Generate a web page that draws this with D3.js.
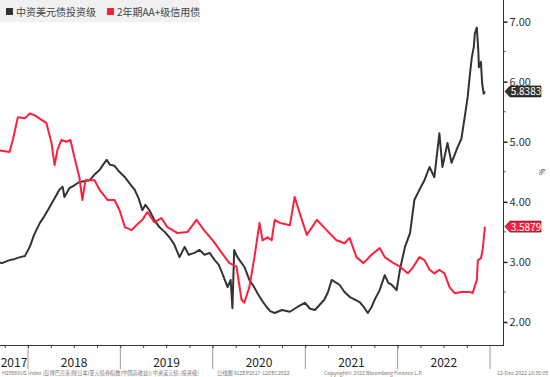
<!DOCTYPE html>
<html>
<head>
<meta charset="utf-8">
<script src="https://cdn.jsdelivr.net/npm/d3@7"></script>
<style>
  html, body { margin: 0; padding: 0; background: #fff; }
  #chart { width: 550px; height: 377px; }
  text { font-family: "Noto Sans CJK SC", "DejaVu Sans", sans-serif; }
</style>
</head>
<body>
<div id="chart"></div>
<script>
// series: 中资美元债投资级 (black) and 2年期AA+级信用债 (red), yields in %
const blackDates = [
  '2017-09-01','2017-09-20','2017-10-20','2017-11-10','2017-12-01','2017-12-20',
  '2018-01-08','2018-01-25','2018-02-17','2018-03-05','2018-03-26','2018-04-15',
  '2018-05-05','2018-05-18','2018-05-25','2018-06-14','2018-07-05','2018-07-23',
  '2018-09-02','2018-09-20','2018-10-11','2018-10-25','2018-11-08','2018-11-20',
  '2018-12-09','2018-12-28','2019-01-19','2019-02-08','2019-02-27','2019-03-15',
  '2019-03-29','2019-04-10','2019-04-26','2019-05-15','2019-06-04','2019-06-25',
  '2019-07-14','2019-08-01','2019-08-23','2019-09-12','2019-09-28','2019-10-21',
  '2019-11-10','2019-11-30','2019-12-20','2020-01-09','2020-01-25','2020-02-06',
  '2020-02-29','2020-03-12','2020-03-19','2020-03-26','2020-04-05','2020-04-16',
  '2020-05-05','2020-05-25','2020-06-10','2020-06-26','2020-07-15','2020-08-01',
  '2020-08-15','2020-09-02','2020-10-01','2020-11-01','2020-12-01','2020-12-30',
  '2021-01-20','2021-02-08','2021-03-17','2021-04-01','2021-04-15','2021-05-01',
  '2021-05-16','2021-06-05','2021-06-25','2021-08-04','2021-08-20','2021-09-05',
  '2021-09-20','2021-10-02','2021-10-22','2021-11-11','2021-11-25','2021-12-08',
  '2021-12-28','2022-01-10','2022-01-30','2022-02-19','2022-03-08','2022-03-28',
  '2022-04-17','2022-05-07','2022-05-26','2022-06-15','2022-06-27','2022-07-17',
  '2022-08-02','2022-08-26','2022-09-10','2022-09-23','2022-10-01','2022-10-05',
  '2022-10-13','2022-10-21','2022-10-29','2022-11-02','2022-11-10','2022-11-16',
  '2022-11-18','2022-11-26','2022-12-01','2022-12-07','2022-12-12'
];
const blackValues = [
  3.00, 2.98, 3.03, 3.05, 3.08, 3.10,
  3.25, 3.45, 3.65, 3.75, 3.90, 4.05,
  4.20, 4.25, 4.08, 4.23, 4.28, 4.33,
  4.36, 4.45, 4.53, 4.62, 4.70, 4.62,
  4.60, 4.50, 4.41, 4.30, 4.20, 4.05,
  3.86, 3.95, 3.86, 3.70, 3.58, 3.50,
  3.41, 3.30, 3.08, 3.25, 3.12, 3.15,
  3.20, 3.12, 3.15, 3.03, 2.95, 2.83,
  2.58, 2.70, 2.23, 3.20, 3.10, 3.03,
  2.92, 2.70, 2.60, 2.48, 2.35, 2.25,
  2.18, 2.15, 2.20, 2.17, 2.25, 2.32,
  2.22, 2.20, 2.37, 2.50, 2.70, 2.66,
  2.62, 2.50, 2.42, 2.33, 2.25, 2.15,
  2.25, 2.37, 2.53, 2.78, 2.65, 2.62,
  2.53, 2.87, 3.25, 3.48, 4.03, 4.20,
  4.36, 4.58, 4.41, 5.14, 4.58, 4.98,
  4.65, 4.91, 5.05, 5.41, 5.64, 5.75,
  6.10, 6.40, 6.58, 6.80, 6.90, 6.50,
  6.24, 6.33, 5.97, 5.80, 5.8383
];

const redDates = [
  '2017-09-01','2017-10-20','2017-11-02','2017-11-22','2017-12-20','2018-01-08',
  '2018-01-28','2018-02-25','2018-03-15','2018-04-04','2018-04-16','2018-04-27',
  '2018-05-13','2018-06-02','2018-06-18','2018-07-03','2018-07-23','2018-08-04',
  '2018-08-16','2018-09-21','2018-10-11','2018-11-12','2018-12-09','2018-12-29',
  '2019-01-19','2019-02-15','2019-03-05','2019-03-29','2019-04-18','2019-05-15',
  '2019-06-12','2019-07-06','2019-08-15','2019-09-24','2019-10-29','2019-11-22',
  '2020-01-01','2020-02-06','2020-03-07','2020-04-04','2020-04-24','2020-05-05',
  '2020-05-25','2020-06-14','2020-07-04','2020-07-16','2020-08-05','2020-08-21',
  '2020-09-02','2020-09-22','2020-11-01','2020-11-20','2020-12-10','2021-01-07',
  '2021-02-16','2021-03-26','2021-05-04','2021-06-05','2021-06-25','2021-07-22',
  '2021-08-19','2021-09-20','2021-10-22','2021-11-11','2021-12-08','2022-01-10',
  '2022-02-10','2022-03-01','2022-03-28','2022-04-17','2022-05-07','2022-05-26',
  '2022-06-15','2022-07-05','2022-07-25','2022-08-14','2022-09-11','2022-10-13',
  '2022-10-24','2022-11-10','2022-11-14','2022-11-26','2022-12-03','2022-12-12'
];
const redValues = [
  4.86, 4.83, 5.03, 5.41, 5.39, 5.47,
  5.44, 5.36, 5.31, 4.98, 4.61, 4.86,
  5.03, 5.00, 5.03, 4.75, 4.41, 4.03,
  4.36, 4.36, 4.20, 4.03, 4.03, 3.86,
  3.58, 3.53, 3.61, 3.70, 3.83, 3.66,
  3.73, 3.58, 3.48, 3.50, 3.70, 3.56,
  3.36, 3.15, 2.98, 2.92, 2.37, 2.32,
  2.58, 3.08, 3.65, 3.36, 3.41, 3.36,
  3.70, 3.65, 3.61, 4.08, 3.81, 3.45,
  3.70, 3.53, 3.36, 3.31, 3.40, 3.08,
  2.98, 3.12, 3.23, 3.08, 3.00, 2.92,
  2.81, 2.90, 3.08, 3.03, 2.87, 2.81,
  2.87, 2.81, 2.58, 2.48, 2.50, 2.50,
  2.48, 2.70, 3.03, 3.06, 3.20, 3.5879
];

const yTicks = [2, 3, 4, 5, 6, 7];
const yMinorTicks = [2.5, 3.5, 4.5, 5.5, 6.5];
const yearLabels = ['2017', '2018', '2019', '2020', '2021', '2022'];
const legendNames = ['中资美元债投资级', '2年期AA+级信用债'];

const W = 550, H = 377;
const plotRight = 503, plotBottom = 345;
const colBlack = '#333333', colRed = '#ff1f3d';

const parse = d3.timeParse('%Y-%m-%d');
const black = blackDates.map((d, i) => ({ date: parse(d), value: blackValues[i] }));
const red = redDates.map((d, i) => ({ date: parse(d), value: redValues[i] }));

const svg = d3.select('#chart').append('svg')
  .attr('width', W).attr('height', H);

// scales: year boundaries fall at fixed pixel positions in the reference
const x = d3.scaleTime()
  .domain([new Date(2018, 0, 1), new Date(2023, 0, 1)])
  .range([28, 490]);
const y = d3.scaleLinear()
  .domain([1.617, 7.36])
  .range([plotBottom, 0]);

svg.append('clipPath').attr('id', 'clip')
  .append('rect').attr('x', 0).attr('y', 0)
  .attr('width', plotRight).attr('height', plotBottom);

// year separators
const yearStarts = d3.timeYear.range(new Date(2018, 0, 1), new Date(2023, 0, 2));
svg.append('g').selectAll('line')
  .data(yearStarts)
  .join('line')
  .attr('x1', d => x(d)).attr('x2', d => x(d))
  .attr('y1', plotBottom).attr('y2', 369)
  .attr('stroke', '#999').attr('stroke-width', 1);

// quarter ticks on the bottom axis
const xAxis = svg.append('g')
  .attr('transform', `translate(0,${plotBottom})`)
  .call(d3.axisBottom(x)
    .tickValues(d3.timeMonth.every(3).range(new Date(2017, 9, 1), new Date(2023, 0, 1)))
    .tickSize(3).tickSizeOuter(0).tickFormat(''));
xAxis.select('.domain').remove();
xAxis.selectAll('line').attr('stroke', '#444');

// year labels centred in each year span
svg.append('g').selectAll('text')
  .data(yearLabels)
  .join('text')
  .attr('x', d => {
    const a = Math.max(0, x(new Date(+d, 0, 1)));
    const b = x(new Date(+d + 1, 0, 1));
    return (a + b) / 2;
  })
  .attr('y', 367)
  .attr('text-anchor', 'middle')
  .attr('font-size', 12)
  .attr('font-family', '"Liberation Sans", Arial, sans-serif')
  .attr('fill', '#222')
  .text(d => d);

// frame: bottom + right
svg.append('line')
  .attr('x1', 0).attr('x2', plotRight)
  .attr('y1', plotBottom + 0.5).attr('y2', plotBottom + 0.5)
  .attr('stroke', '#333');

// right axis
const yAxis = svg.append('g')
  .attr('transform', `translate(${plotRight + 0.5},0)`)
  .call(d3.axisRight(y).tickValues(yTicks).tickFormat(d3.format('.2f')).tickSize(4).tickPadding(2).tickSizeOuter(0));
yAxis.select('.domain').attr('d', `M0,0V${plotBottom + 1}`).attr('stroke', '#333');
yAxis.selectAll('line').attr('stroke', '#222').attr('stroke-width', 1.5);
yAxis.selectAll('text')
  .attr('font-size', 11)
  .attr('font-family', '"Liberation Sans", Arial, sans-serif')
  .attr('fill', '#333');

svg.append('g')
  .attr('transform', `translate(${plotRight + 0.5},0)`)
  .selectAll('line')
  .data(yMinorTicks)
  .join('line')
  .attr('x1', 0).attr('x2', 2)
  .attr('y1', d => y(d)).attr('y2', d => y(d))
  .attr('stroke', '#444');

// unit
svg.append('text')
  .attr('transform', `translate(539,172) rotate(90)`)
  .attr('text-anchor', 'middle')
  .attr('font-size', 7)
  .attr('fill', '#333')
  .text('%');

// lines
const line = d3.line().x(d => x(d.date)).y(d => y(d.value));
const lines = svg.append('g').attr('clip-path', 'url(#clip)');
lines.append('path').datum(black)
  .attr('fill', 'none').attr('stroke', colBlack).attr('stroke-width', 2)
  .attr('stroke-linejoin', 'round').attr('d', line);
lines.append('path').datum(red)
  .attr('fill', 'none').attr('stroke', colRed).attr('stroke-width', 2)
  .attr('stroke-linejoin', 'round').attr('d', line);

// last-value tags
[[black, colBlack], [red, colRed]].forEach(([s, c]) => {
  const last = s[s.length - 1];
  const cy = y(last.value);
  const g = svg.append('g').attr('transform', `translate(${plotRight + 2},${cy})`);
  g.append('path')
    .attr('d', 'M0,0 L5,-5.5 L36,-5.5 L36,5.5 L5,5.5 Z')
    .attr('fill', c).attr('stroke', '#111').attr('stroke-width', 0.6);
  g.append('text')
    .attr('x', 21).attr('y', 4)
    .attr('text-anchor', 'middle')
    .attr('font-size', 10)
    .attr('font-family', '"Liberation Sans", Arial, sans-serif')
    .attr('fill', '#fff')
    .text(d3.format('.4f')(last.value));
});

// legend
const legend = svg.append('g');
legend.append('rect')
  .attr('x', 0).attr('y', 0).attr('width', 200).attr('height', 22)
  .attr('rx', 3).attr('fill', '#f1f1f1');
const legendX = [6, 107];
[colBlack, colRed].forEach((c, i) => {
  legend.append('rect')
    .attr('x', legendX[i]).attr('y', 8).attr('width', 7).attr('height', 7)
    .attr('fill', c);
  legend.append('text')
    .attr('x', legendX[i] + 10).attr('y', 16)
    .attr('font-size', 10)
    .attr('fill', '#444')
    .text(legendNames[i]);
});

// footer
const foot = svg.append('g')
  .attr('font-size', 5.2)
  .attr('fill', '#777');
foot.append('text').attr('x', 2).attr('y', 375)
  .text('H29968US Index (彭博巴克莱(除日本)亚元债券指数(中国高收益)) 中资美元债 (投资级)');
foot.append('text').attr('x', 217).attr('y', 375)
  .text('日线图 01SEP2017-12DEC2022');
foot.append('text').attr('x', 324).attr('y', 375)
  .text('Copyright© 2022 Bloomberg Finance L.P.');
foot.append('text').attr('x', 497).attr('y', 375)
  .text('12-Dec-2022 18:35:09');
</script>
</body>
</html>
